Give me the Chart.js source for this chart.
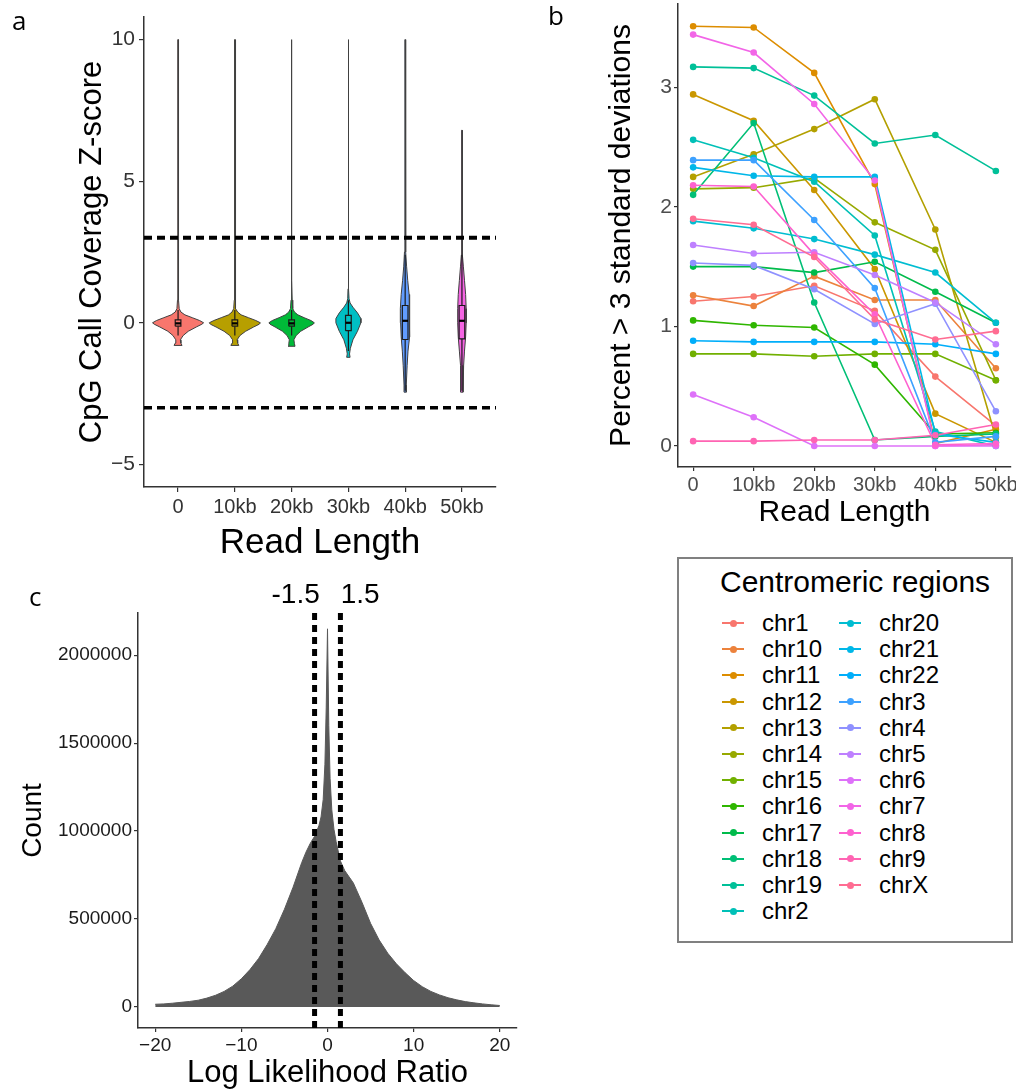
<!DOCTYPE html>
<html>
<head>
<meta charset="utf-8">
<script src="https://cdn.jsdelivr.net/npm/chart.js@4.4.1/dist/chart.umd.min.js"></script>
<style>
  html, body { margin: 0; padding: 0; background: #fff; }
  body { width: 1016px; height: 1090px; position: relative; overflow: hidden; font-family: "Liberation Sans", Arial, sans-serif; }
  canvas { position: absolute; }
  .plabel { position: absolute; font-family: "Open Sans", "Noto Sans", sans-serif; font-size: 26px; line-height: 26px; color: #000; }
  #legend { position: absolute; left: 677px; top: 557px; width: 336px; height: 386px; border: 2px solid #808080; box-sizing: border-box; }
  #legend .ttl { position: absolute; font-size: 30px; line-height: 30px; color: #000; white-space: nowrap; }
  #legend .txt { position: absolute; font-size: 24px; line-height: 24px; color: #000; white-space: nowrap; }
  #legend .ln { position: absolute; height: 2px; }
  #legend .dt { position: absolute; width: 7px; height: 7px; border-radius: 50%; }
</style>
</head>
<body>
<canvas id="chartA" width="540" height="570" style="left:0px;top:0px"></canvas>
<canvas id="chartB" width="456" height="535" style="left:560px;top:0px"></canvas>
<canvas id="chartC" width="540" height="510" style="left:0px;top:580px"></canvas>
<div id="legend"></div>
<div class="plabel" style="left:12px;top:7px">a</div>
<div class="plabel" style="left:548px;top:2px">b</div>
<div class="plabel" style="left:29px;top:583px">c</div>
<script>
// ---------------- DATA ----------------
// Panel a: violins of CpG call coverage Z-score per read length
const readLengths = ['0', '10kb', '20kb', '30kb', '40kb', '50kb'];
const zThresholds = [3, -3];
const zTicks = [-5, 0, 5, 10];

const violinY_0   = [-0.80, -0.72, -0.60, -0.45, -0.30, -0.15, -0.05, 0.00, 0.08, 0.18, 0.28, 0.38, 0.50, 0.80, 1.50, 10.0];
const violinW_0   = [0.07, 0.05, 0.04, 0.09, 0.18, 0.32, 0.42, 0.45, 0.38, 0.25, 0.12, 0.05, 0.02, 0.010, 0.006, 0.004];
const violinY_10  = [-0.80, -0.72, -0.60, -0.45, -0.30, -0.15, -0.05, 0.00, 0.08, 0.18, 0.28, 0.38, 0.50, 0.80, 1.50, 10.0];
const violinW_10  = [0.07, 0.05, 0.04, 0.09, 0.19, 0.33, 0.43, 0.45, 0.37, 0.24, 0.11, 0.05, 0.02, 0.010, 0.006, 0.004];
const violinY_20  = [-0.83, -0.74, -0.60, -0.45, -0.30, -0.15, -0.05, 0.00, 0.08, 0.18, 0.28, 0.38, 0.50, 0.80, 1.50, 10.0];
const violinW_20  = [0.06, 0.05, 0.04, 0.08, 0.16, 0.29, 0.38, 0.40, 0.34, 0.22, 0.11, 0.05, 0.02, 0.010, 0.006, 0.004];
const violinY_30  = [-1.22, -1.10, -0.90, -0.60, -0.30, 0.00, 0.15, 0.35, 0.55, 0.70, 0.85, 1.20, 10.0];
const violinW_30  = [0.03, 0.02, 0.035, 0.08, 0.16, 0.22, 0.22, 0.16, 0.08, 0.03, 0.012, 0.006, 0.004];
const violinY_40  = [-2.45, -2.20, -1.50, -1.00, -0.50, 0.00, 0.50, 1.00, 1.50, 2.00, 2.50, 3.00, 10.0];
const violinW_40  = [0.02, 0.02, 0.035, 0.05, 0.07, 0.08, 0.085, 0.07, 0.045, 0.025, 0.012, 0.006, 0.004];
const violinY_50  = [-2.45, -2.20, -1.50, -1.00, -0.50, 0.00, 0.50, 1.00, 1.50, 2.00, 2.40, 3.00, 6.80];
const violinW_50  = [0.02, 0.02, 0.03, 0.045, 0.065, 0.075, 0.075, 0.065, 0.045, 0.025, 0.010, 0.006, 0.004];

const boxQ1      = [-0.12, -0.12, -0.12, -0.28, -0.59, -0.57];
const boxMedian  = [-0.02, -0.02, -0.02, 0.00, 0.07, 0.07];
const boxQ3      = [0.10, 0.10, 0.10, 0.26, 0.61, 0.61];
const whiskerLow = [-0.45, -0.45, -0.45, -1.00, -2.40, -2.40];
const whiskerHigh= [0.45, 0.45, 0.45, 0.80, 2.40, 2.40];

// Panel b: percent > 3 standard deviations per centromeric region
const readLengthKb = [0, 10, 20, 30, 40, 50];
const pctTicks = [0, 1, 2, 3];
const chromosomes = ['chr1','chr10','chr11','chr12','chr13','chr14','chr15','chr16','chr17','chr18','chr19','chr2',
                     'chr20','chr21','chr22','chr3','chr4','chr5','chr6','chr7','chr8','chr9','chrX'];
const pct_chr1  = [1.21, 1.25, 1.34, 1.13, 0.58, 0.17];
const pct_chr10 = [1.26, 1.17, 1.42, 1.22, 1.22, 0.65];
const pct_chr11 = [3.51, 3.50, 3.12, 2.19, 0.02, 0.14];
const pct_chr12 = [2.94, 2.72, 2.14, 1.48, 0.27, 0.03];
const pct_chr13 = [2.25, 2.44, 2.65, 2.90, 1.81, 0.07];
const pct_chr14 = [2.15, 2.16, 2.24, 1.87, 1.64, 0.55];
const pct_chr15 = [0.77, 0.77, 0.75, 0.77, 0.77, 0.55];
const pct_chr16 = [1.05, 1.01, 0.99, 0.68, 0.10, 0.11];
const pct_chr17 = [1.50, 1.50, 1.45, 1.54, 1.29, 1.03];
const pct_chr18 = [2.10, 2.70, 1.20, 0.05, 0.08, 0.10];
const pct_chr19 = [3.17, 3.16, 2.93, 2.53, 2.60, 2.30];
const pct_chr2  = [2.56, 2.41, 2.21, 1.76, 0.12, 0.00];
const pct_chr20 = [1.88, 1.82, 1.73, 1.60, 1.45, 1.03];
const pct_chr21 = [2.33, 2.26, 2.25, 2.25, 0.10, 0.03];
const pct_chr22 = [0.88, 0.87, 0.87, 0.87, 0.85, 0.77];
const pct_chr3  = [2.39, 2.39, 1.89, 1.32, 0.03, 0.08];
const pct_chr4  = [1.53, 1.51, 1.31, 1.02, 1.19, 0.29];
const pct_chr5  = [1.68, 1.61, 1.62, 1.43, 1.20, 0.85];
const pct_chr6  = [0.43, 0.24, 0.00, 0.00, 0.00, 0.00];
const pct_chr7  = [3.44, 3.29, 2.86, 2.22, 0.00, 0.01];
const pct_chr8  = [2.18, 2.17, 1.60, 1.10, 0.01, 0.02];
const pct_chr9  = [0.04, 0.04, 0.05, 0.05, 0.09, 0.18];
const pct_chrX  = [1.90, 1.85, 1.58, 1.06, 0.89, 0.96];

// Panel c: histogram of log likelihood ratio
const llrBins   = [-20, -19, -18, -17, -16, -15, -14, -13, -12, -11, -10, -9, -8, -7, -6, -5, -4, -3, -2.5, -2, -1.5, -1,
                   -0.75, -0.5, -0.3, -0.15, 0, 0.15, 0.3, 0.5, 0.75, 1, 1.5, 2, 3, 4, 5, 6, 7, 8, 9, 10,
                   11, 12, 13, 14, 15, 16, 17, 18, 19, 20];
const llrCounts = [15000, 17000, 21000, 26000, 31000, 38000, 50000, 66000, 88000, 118000, 160000, 212000, 275000, 355000,
                   445000, 555000, 680000, 820000, 880000, 930000, 970000, 1030000,
                   1080000, 1180000, 1380000, 1700000, 2150000, 1600000, 1300000, 1120000, 1010000, 940000, 830000, 775000,
                   705000, 595000, 475000, 380000, 305000, 245000, 195000, 150000,
                   115000, 88000, 68000, 52000, 40000, 30000, 23000, 17000, 12000, 8000];
const llrCutoffs = [-1.5, 1.5];
const llrCutoffLabels = ['-1.5', '1.5'];
const llrCutoffLabelPos = [-3.7, 3.8];
const llrTicksX = [-20, -10, 0, 10, 20];
const llrTicksY = [0, 500000, 1000000, 1500000, 2000000];

// ---------------- HELPERS ----------------
function hcl(h, c, l) {
  const hr = h * Math.PI / 180;
  const U = c * Math.cos(hr), V = c * Math.sin(hr);
  const Xn = 95.047, Yn = 100.0, Zn = 108.883;
  const den = Xn + 15 * Yn + 3 * Zn;
  const un = 4 * Xn / den, vn = 9 * Yn / den;
  const Y = l > 8 ? Yn * Math.pow((l + 16) / 116, 3) : Yn * l / 903.3;
  const u = U / (13 * l) + un, v = V / (13 * l) + vn;
  const X = 9 * Y * u / (4 * v);
  const Z = Y * (12 - 3 * u - 20 * v) / (4 * v);
  const x = X / 100, y = Y / 100, z = Z / 100;
  const lin = [3.240479 * x - 1.537150 * y - 0.498535 * z,
               -0.969256 * x + 1.875992 * y + 0.041556 * z,
               0.055648 * x - 0.204043 * y + 1.057311 * z];
  const out = lin.map(t => {
    let g = t <= 0.0031308 ? 12.92 * t : 1.055 * Math.pow(t, 1 / 2.4) - 0.055;
    g = Math.max(0, Math.min(1, g));
    return Math.round(g * 255);
  });
  return 'rgb(' + out.join(',') + ')';
}
function huePalette(n) {
  const cols = [];
  for (let i = 0; i < n; i++) cols.push(hcl(15 + i * 360 / n, 100, 65));
  return cols;
}
const groupColors = huePalette(6);
const chrColors = huePalette(23);
const minusFmt = v => (v < 0 ? '\u2212' + Math.abs(v) : String(v));

Chart.defaults.font.family = '"Liberation Sans", Arial, sans-serif';
Chart.defaults.animation = false;

function fixedAxis(size, isX) {
  return function (s) {
    if (isX) s.height = size; else s.width = size;
    s.paddingTop = 0; s.paddingBottom = 0; s.paddingLeft = 0; s.paddingRight = 0;
  };
}
function setTicks(values) {
  return function (s) { s.ticks = values.map(v => ({ value: v })); };
}

// ---------------- PANEL A ----------------
const xMinA = 0.4, xMaxA = 6.6, yMinA = -5.8, yMaxA = 10.8;
const violinYs = [violinY_0, violinY_10, violinY_20, violinY_30, violinY_40, violinY_50];
const violinWs = [violinW_0, violinW_10, violinW_20, violinW_30, violinW_40, violinW_50];
const dsA = [];
for (let g = 0; g < readLengths.length; g++) {
  const cx = g + 1, ys = violinYs[g], ws = violinWs[g];
  const outline = [];
  for (let k = 0; k < ys.length; k++) outline.push({ x: cx - ws[k], y: ys[k] });
  for (let k = ys.length - 1; k >= 0; k--) outline.push({ x: cx + ws[k], y: ys[k] });
  outline.push(outline[0]);
  dsA.push({ data: outline, showLine: true, fill: 'shape', backgroundColor: groupColors[g],
             borderColor: '#404040', borderWidth: 1, pointRadius: 0, tension: 0, order: 20 });
  const bw = 0.05;
  dsA.push({ data: [{ x: cx, y: whiskerLow[g] }, { x: cx, y: boxQ1[g] }], showLine: true,
             borderColor: '#1a1a1a', borderWidth: 1.2, pointRadius: 0, order: 12 });
  dsA.push({ data: [{ x: cx, y: boxQ3[g] }, { x: cx, y: whiskerHigh[g] }], showLine: true,
             borderColor: '#1a1a1a', borderWidth: 1.2, pointRadius: 0, order: 12 });
  dsA.push({ data: [{ x: cx - bw, y: boxQ1[g] }, { x: cx + bw, y: boxQ1[g] }, { x: cx + bw, y: boxQ3[g] },
                    { x: cx - bw, y: boxQ3[g] }, { x: cx - bw, y: boxQ1[g] }],
             showLine: true, fill: 'shape', backgroundColor: groupColors[g], borderColor: '#1a1a1a',
             borderWidth: 1.2, pointRadius: 0, order: 10 });
  dsA.push({ data: [{ x: cx - bw, y: boxMedian[g] }, { x: cx + bw, y: boxMedian[g] }], showLine: true,
             borderColor: '#000', borderWidth: 2.2, pointRadius: 0, order: 9 });
}
zThresholds.forEach((t, i) => {
  dsA.push({ data: [{ x: xMinA, y: t }, { x: xMaxA, y: t }], showLine: true, borderColor: '#000',
             borderWidth: i === 0 ? 4 : 3.5, borderDash: [8, 5], pointRadius: 0, order: 1 });
});

new Chart(document.getElementById('chartA'), {
  type: 'scatter',
  data: { datasets: dsA },
  options: {
    responsive: false, animation: false, events: [],
    layout: { padding: { left: 0, top: 17, right: 44, bottom: 0 } },
    plugins: { legend: { display: false }, tooltip: { enabled: false } },
    scales: {
      x: {
        type: 'linear', min: xMinA, max: xMaxA,
        afterBuildTicks: setTicks(readLengths.map((_, i) => i + 1)),
        afterFit: fixedAxis(83, true),
        ticks: { callback: (v, i) => readLengths[i], color: '#333', font: { size: 20 }, padding: 3, maxRotation: 0, autoSkip: false },
        grid: { drawOnChartArea: false, drawTicks: true, tickLength: 5, color: '#333', lineWidth: 1.2 },
        border: { display: true, color: '#333', width: 1.5 },
        title: { display: true, text: 'Read Length', color: '#000', font: { size: 35, lineHeight: 1 }, padding: { top: 0, bottom: 9.5 } }
      },
      y: {
        type: 'linear', min: yMinA, max: yMaxA,
        afterBuildTicks: setTicks(zTicks),
        afterFit: fixedAxis(144, false),
        ticks: { callback: v => minusFmt(v), color: '#333', font: { size: 21 }, padding: 4 },
        grid: { drawOnChartArea: false, drawTicks: true, tickLength: 5, color: '#333', lineWidth: 1.2 },
        border: { display: true, color: '#333', width: 1.5 },
        title: { display: true, text: 'CpG Call Coverage Z-score', color: '#000', font: { size: 31, lineHeight: 1 }, padding: { top: 76.5, bottom: 0 } }
      }
    }
  }
});

// ---------------- PANEL B ----------------
const pctSeries = [pct_chr1, pct_chr10, pct_chr11, pct_chr12, pct_chr13, pct_chr14, pct_chr15, pct_chr16, pct_chr17,
                   pct_chr18, pct_chr19, pct_chr2, pct_chr20, pct_chr21, pct_chr22, pct_chr3, pct_chr4, pct_chr5,
                   pct_chr6, pct_chr7, pct_chr8, pct_chr9, pct_chrX];
const dsB = [];
chromosomes.forEach((c, i) => {
  const pts = readLengthKb.map((x, j) => ({ x: x, y: pctSeries[i][j] }));
  dsB.push({ label: c, data: pts, showLine: true, borderColor: chrColors[i], borderWidth: 1.6,
             pointRadius: 0, tension: 0, order: 100 + 22 - i });
  dsB.push({ label: c, data: pts, showLine: false, pointRadius: 3.3, pointBackgroundColor: chrColors[i],
             pointBorderWidth: 0, order: 22 - i });
});
new Chart(document.getElementById('chartB'), {
  type: 'scatter',
  data: { datasets: dsB },
  options: {
    responsive: false, animation: false, events: [],
    layout: { padding: { left: 0, top: 0, right: 5, bottom: 0 } },
    plugins: { legend: { display: false }, tooltip: { enabled: false } },
    scales: {
      x: {
        type: 'linear', min: -2.5, max: 52.5,
        afterBuildTicks: setTicks(readLengthKb),
        afterFit: fixedAxis(68, true),
        ticks: { callback: (v, i) => readLengths[i], color: '#4d4d4d', font: { size: 20 }, padding: 2, maxRotation: 0, autoSkip: false },
        grid: { drawOnChartArea: false, drawTicks: true, tickLength: 4, color: '#333', lineWidth: 1.2 },
        border: { display: true, color: '#333', width: 1.5 },
        title: { display: true, text: 'Read Length', color: '#000', font: { size: 30, lineHeight: 1 }, padding: { top: 0, bottom: 7 } }
      },
      y: {
        type: 'linear', min: -0.176, max: 3.696,
        afterBuildTicks: setTicks(pctTicks),
        afterFit: fixedAxis(118, false),
        ticks: { color: '#4d4d4d', font: { size: 21 }, padding: 2 },
        grid: { drawOnChartArea: false, drawTicks: true, tickLength: 4, color: '#333', lineWidth: 1.2 },
        border: { display: true, color: '#333', width: 1.5 },
        title: { display: true, text: 'Percent > 3 standard deviations', color: '#000', font: { size: 30, lineHeight: 1 }, padding: { top: 47, bottom: 0 } }
      }
    }
  }
});

// Legend (HTML) for panel b
(function buildLegend() {
  const lg = document.getElementById('legend');
  const t = document.createElement('div');
  t.className = 'ttl'; t.textContent = 'Centromeric regions';
  t.style.left = '41px'; t.style.top = '8px';
  lg.appendChild(t);
  chromosomes.forEach((c, i) => {
    const col = i < 12 ? 0 : 1, row = col ? i - 12 : i;
    const cx = col ? 171 : 54, tx = col ? 200 : 83;
    const cy = 64 + 26.2 * row;
    const ln = document.createElement('div');
    ln.className = 'ln'; ln.style.background = chrColors[i];
    ln.style.left = (cx - 11) + 'px'; ln.style.width = '22px'; ln.style.top = (cy - 1) + 'px';
    lg.appendChild(ln);
    const dt = document.createElement('div');
    dt.className = 'dt'; dt.style.background = chrColors[i];
    dt.style.left = (cx - 3.5) + 'px'; dt.style.top = (cy - 3.5) + 'px';
    lg.appendChild(dt);
    const tx_ = document.createElement('div');
    tx_.className = 'txt'; tx_.textContent = c;
    tx_.style.left = tx + 'px'; tx_.style.top = (cy - 12) + 'px';
    lg.appendChild(tx_);
  });
})();

// ---------------- PANEL C ----------------
const yMinC = -120000, yMaxC = 2240000;
const cutoffLabelPlugin = {
  id: 'cutoffLabels',
  afterDraw(chart) {
    const ctx = chart.ctx, xs = chart.scales.x;
    ctx.save();
    ctx.font = '28px "Liberation Sans", Arial, sans-serif';
    ctx.fillStyle = '#000'; ctx.textAlign = 'center'; ctx.textBaseline = 'middle';
    llrCutoffLabels.forEach((lab, i) => ctx.fillText(lab, xs.getPixelForValue(llrCutoffLabelPos[i]), 15));
    ctx.restore();
  }
};
const dsC = [{
  data: llrBins.map((x, i) => ({ x: x, y: llrCounts[i] })), showLine: true, fill: 'origin',
  backgroundColor: '#595959', borderColor: '#595959', borderWidth: 1, pointRadius: 0, tension: 0, order: 10
}];
llrCutoffs.forEach(c => dsC.push({
  data: [{ x: c, y: yMinC }, { x: c, y: yMaxC }], showLine: true, borderColor: '#000', borderWidth: 5,
  borderDash: [7, 5], pointRadius: 0, order: 1
}));
new Chart(document.getElementById('chartC'), {
  type: 'scatter',
  data: { datasets: dsC },
  plugins: [cutoffLabelPlugin],
  options: {
    responsive: false, animation: false, events: [],
    layout: { padding: { left: 0, top: 33, right: 23, bottom: 0 } },
    plugins: { legend: { display: false }, tooltip: { enabled: false } },
    scales: {
      x: {
        type: 'linear', min: -22, max: 22,
        afterBuildTicks: setTicks(llrTicksX),
        afterFit: fixedAxis(62, true),
        ticks: { callback: v => minusFmt(v), color: '#1a1a1a', font: { size: 19 }, padding: 2, maxRotation: 0, autoSkip: false },
        grid: { drawOnChartArea: false, drawTicks: true, tickLength: 4, color: '#333', lineWidth: 1.2 },
        border: { display: true, color: '#333', width: 1.5 },
        title: { display: true, text: 'Log Likelihood Ratio', color: '#000', font: { size: 31, lineHeight: 1 }, padding: { top: 0, bottom: 1.5 } }
      },
      y: {
        type: 'linear', min: yMinC, max: yMaxC,
        afterBuildTicks: setTicks(llrTicksY),
        afterFit: fixedAxis(138, false),
        ticks: { callback: v => String(v), color: '#1a1a1a', font: { size: 19 }, padding: 2 },
        grid: { drawOnChartArea: false, drawTicks: true, tickLength: 4, color: '#333', lineWidth: 1.2 },
        border: { display: true, color: '#333', width: 1.5 },
        title: { display: true, text: 'Count', color: '#000', font: { size: 28, lineHeight: 1 }, padding: { top: 19, bottom: 0 } }
      }
    }
  }
});
</script>
</body>
</html>
